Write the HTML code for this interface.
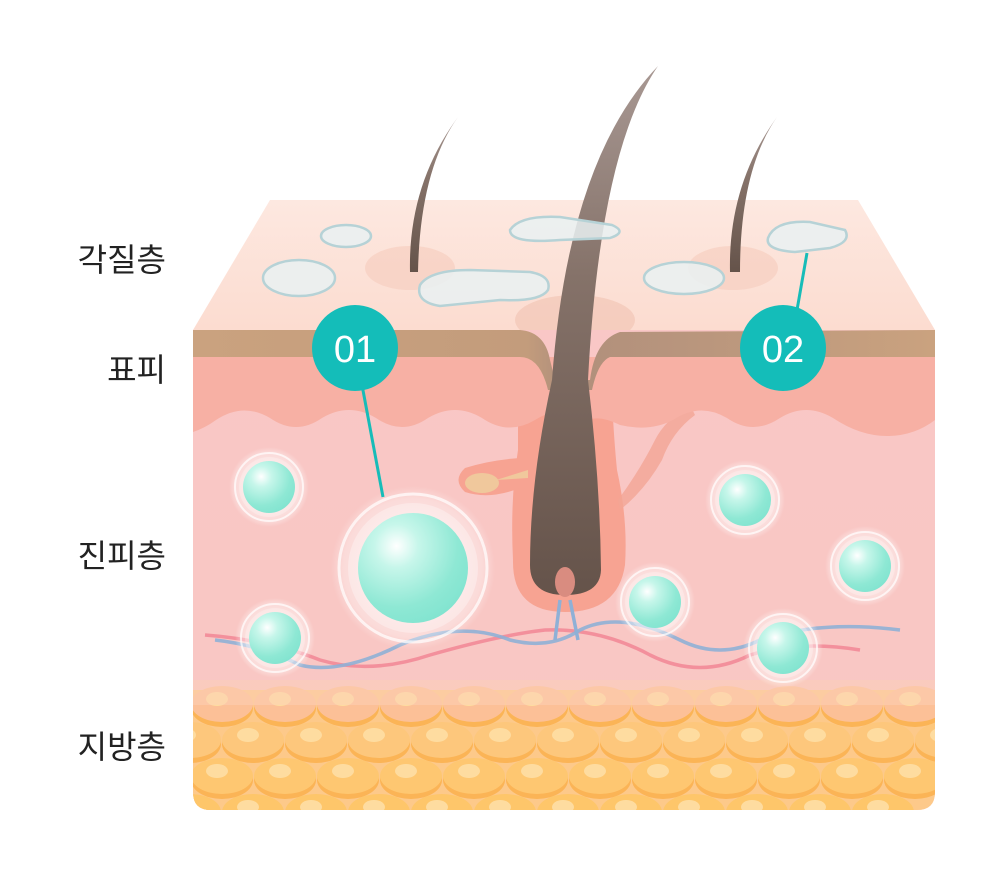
<!DOCTYPE html>
<html><head><meta charset="utf-8"><style>
html,body{margin:0;padding:0;background:#fff}
svg{display:block}
text{font-family:"Liberation Sans","Noto Sans CJK KR",sans-serif}
</style></head><body>
<svg width="1005" height="880" viewBox="0 0 1005 880" xmlns="http://www.w3.org/2000/svg">
<defs>
<linearGradient id="top" x1="0" y1="0" x2="0" y2="1"><stop offset="0" stop-color="#fde8e0"/><stop offset="1" stop-color="#fcdcd0"/></linearGradient>
<linearGradient id="tan" x1="0" y1="0" x2="1" y2="0"><stop offset="0" stop-color="#caa27f"/><stop offset="0.45" stop-color="#c39c7c"/><stop offset="0.5" stop-color="#b08f7c"/><stop offset="1" stop-color="#caa27f"/></linearGradient>
<linearGradient id="hair" x1="0" y1="0" x2="0" y2="1"><stop offset="0" stop-color="#a89893"/><stop offset="0.4" stop-color="#857269"/><stop offset="1" stop-color="#65534a"/></linearGradient>
<linearGradient id="derm" x1="0" y1="0" x2="0" y2="1"><stop offset="0" stop-color="#f9c7c6"/><stop offset="0.85" stop-color="#f9c7c3"/><stop offset="1" stop-color="#fbd0b8"/></linearGradient>
<radialGradient id="ball" cx="0.35" cy="0.3" r="0.8"><stop offset="0" stop-color="#ffffff"/><stop offset="0.25" stop-color="#c6f6ea"/><stop offset="0.7" stop-color="#8ee8d4"/><stop offset="1" stop-color="#7fe3cf"/></radialGradient>
<radialGradient id="halo" cx="0.5" cy="0.5" r="0.5"><stop offset="0.6" stop-color="#fff" stop-opacity="0.5"/><stop offset="0.85" stop-color="#fff" stop-opacity="0.35"/><stop offset="1" stop-color="#fff" stop-opacity="0"/></radialGradient>
<clipPath id="body"><path d="M193 330 H935 V792 Q935 810 917 810 H211 Q193 810 193 792 Z"/></clipPath>
<g id="bub">
<circle r="40" fill="url(#halo)"/>
<circle r="34" fill="none" stroke="#fff" stroke-opacity="0.7" stroke-width="2"/>
<circle r="30" fill="#fff" fill-opacity="0.25"/>
<circle r="26" fill="url(#ball)"/>
</g>
<g id="cell">
<ellipse cx="0" cy="4" rx="31" ry="19" fill="#fbb456"/>
<ellipse cx="0" cy="0" rx="31" ry="18" fill="inherit"/>
<ellipse cx="-5" cy="-5" rx="11" ry="7" fill="#fedca0"/>
</g>
</defs>

<path d="M193 330 L270 200 H858 L935 330 Z" fill="url(#top)"/>
<ellipse cx="410" cy="268" rx="45" ry="22" fill="#f6cfc0" opacity="0.7"/>
<ellipse cx="733" cy="268" rx="45" ry="22" fill="#f6cfc0" opacity="0.7"/>
<ellipse cx="575" cy="320" rx="60" ry="25" fill="#f2c6b6" opacity="0.7"/>

<g clip-path="url(#body)">
<rect x="193" y="330" width="742" height="480" fill="url(#derm)"/>
<!-- follicle (under epidermis) -->
<path d="M518 400 L612 400 Q614 440 617 470 Q628 520 625 565 Q618 612 565 612 Q512 612 513 560 Q510 500 518 450 Z" fill="#f7a392"/>
<path d="M520 458 Q490 460 465 468 Q452 480 465 492 Q490 500 520 488 Z" fill="#f7a392"/>
<ellipse cx="482" cy="483" rx="17" ry="10" fill="#f0c89c"/>
<path d="M496 480 L528 470 L528 478 Z" fill="#f0c89c"/>
<path d="M618 500 Q640 470 655 440 Q665 420 690 405 L695 415 Q672 432 662 460 Q645 490 620 510 Z" fill="#f2a595" opacity="0.8"/>
<!-- epidermis -->
<path d="M193 357 H935 V420 Q914 436 887 436 Q860 436 833 418 Q806 402 780 418 Q753 436 727 418 Q700 402 673 420 Q650 432 620 425 Q600 415 588 420 Q560 404 535 420 Q508 436 482 418 Q455 402 428 418 Q402 436 376 418 Q349 402 322 418 Q296 436 270 418 Q243 402 216 420 Q205 428 193 432 Z" fill="#f7b0a4"/>
<!-- fat layer -->
<rect x="193" y="690" width="742" height="120" fill="#fdc98a"/>
<g>
<use href="#cell" x="222" y="704" fill="#fcc097"/><use href="#cell" x="285" y="704" fill="#fcc097"/><use href="#cell" x="348" y="704" fill="#fcc097"/><use href="#cell" x="411" y="704" fill="#fcc097"/><use href="#cell" x="474" y="704" fill="#fcc097"/><use href="#cell" x="537" y="704" fill="#fcc097"/><use href="#cell" x="600" y="704" fill="#fcc097"/><use href="#cell" x="663" y="704" fill="#fcc097"/><use href="#cell" x="726" y="704" fill="#fcc097"/><use href="#cell" x="789" y="704" fill="#fcc097"/><use href="#cell" x="852" y="704" fill="#fcc097"/><use href="#cell" x="915" y="704" fill="#fcc097"/>
<use href="#cell" x="190" y="740" fill="#fdc77c"/><use href="#cell" x="253" y="740" fill="#fdc77c"/><use href="#cell" x="316" y="740" fill="#fdc77c"/><use href="#cell" x="379" y="740" fill="#fdc77c"/><use href="#cell" x="442" y="740" fill="#fdc77c"/><use href="#cell" x="505" y="740" fill="#fdc77c"/><use href="#cell" x="568" y="740" fill="#fdc77c"/><use href="#cell" x="631" y="740" fill="#fdc77c"/><use href="#cell" x="694" y="740" fill="#fdc77c"/><use href="#cell" x="757" y="740" fill="#fdc77c"/><use href="#cell" x="820" y="740" fill="#fdc77c"/><use href="#cell" x="883" y="740" fill="#fdc77c"/><use href="#cell" x="946" y="740" fill="#fdc77c"/>
<use href="#cell" x="222" y="776" fill="#fec771"/><use href="#cell" x="285" y="776" fill="#fec771"/><use href="#cell" x="348" y="776" fill="#fec771"/><use href="#cell" x="411" y="776" fill="#fec771"/><use href="#cell" x="474" y="776" fill="#fec771"/><use href="#cell" x="537" y="776" fill="#fec771"/><use href="#cell" x="600" y="776" fill="#fec771"/><use href="#cell" x="663" y="776" fill="#fec771"/><use href="#cell" x="726" y="776" fill="#fec771"/><use href="#cell" x="789" y="776" fill="#fec771"/><use href="#cell" x="852" y="776" fill="#fec771"/><use href="#cell" x="915" y="776" fill="#fec771"/>
<use href="#cell" x="190" y="812" fill="#fec66a"/><use href="#cell" x="253" y="812" fill="#fec66a"/><use href="#cell" x="316" y="812" fill="#fec66a"/><use href="#cell" x="379" y="812" fill="#fec66a"/><use href="#cell" x="442" y="812" fill="#fec66a"/><use href="#cell" x="505" y="812" fill="#fec66a"/><use href="#cell" x="568" y="812" fill="#fec66a"/><use href="#cell" x="631" y="812" fill="#fec66a"/><use href="#cell" x="694" y="812" fill="#fec66a"/><use href="#cell" x="757" y="812" fill="#fec66a"/><use href="#cell" x="820" y="812" fill="#fec66a"/><use href="#cell" x="883" y="812" fill="#fec66a"/>
</g>
<rect x="193" y="680" width="742" height="25" fill="#fbd0b8" opacity="0.5"/>
<!-- nerves -->
<path d="M205 635 Q270 640 320 660 Q370 675 430 655 Q500 635 545 630 Q600 628 650 655 Q700 680 750 655 Q800 640 860 650" fill="none" stroke="#f28a98" stroke-width="3.5" opacity="0.9"/>
<path d="M215 640 Q260 645 300 665 Q340 675 400 645 Q460 620 510 640 Q550 650 580 630 Q620 610 680 640 Q720 660 760 640 Q820 620 900 630" fill="none" stroke="#8fb0d6" stroke-width="3.5" opacity="0.9"/>
<path d="M560 600 L555 640 M570 600 L578 640" stroke="#8fb0d6" stroke-width="3.5" fill="none"/>
<!-- tan band -->
<path d="M193 330 H520 Q545 332 550 360 L555 380 L590 380 Q595 340 620 332 L935 330 V357 H610 Q598 362 592 390 L548 390 Q540 357 520 357 H193 Z" fill="url(#tan)"/>
</g>

<path d="M458 117 Q420 170 418 272 L410 272 Q408 185 458 117 Z" fill="url(#hair)"/>
<path d="M777 117 Q740 170 740 272 L730 272 Q728 185 777 117 Z" fill="url(#hair)"/>
<path d="M658 66 Q600 150 588 380 Q600 480 601 570 Q600 595 565 595 Q530 595 530 565 Q530 480 552 380 Q568 160 658 66 Z" fill="url(#hair)"/>
<ellipse cx="565" cy="582" rx="10" ry="15" fill="#d98c80"/>

<g fill="#e9f1f2" fill-opacity="0.85" stroke="#b6d2d6" stroke-width="2.5">
<ellipse cx="346" cy="236" rx="25" ry="11"/>
<ellipse cx="299" cy="278" rx="36" ry="18"/>
<path d="M420 285 Q430 270 470 270 L530 272 Q552 276 548 290 Q540 302 500 300 L440 306 Q415 302 420 285 Z"/>
<path d="M510 230 Q520 215 560 217 L612 225 Q628 232 610 238 L560 240 Q510 244 510 230 Z"/>
<ellipse cx="684" cy="278" rx="40" ry="16"/>
<path d="M768 238 Q775 220 810 222 L845 230 Q852 242 830 248 L795 252 Q765 250 768 238 Z"/>
</g>

<circle cx="413" cy="568" r="82" fill="url(#halo)"/>
<circle cx="413" cy="568" r="74" fill="none" stroke="#fff" stroke-opacity="0.7" stroke-width="3"/>
<circle cx="413" cy="568" r="65" fill="#fff" fill-opacity="0.3"/>
<circle cx="413" cy="568" r="55" fill="url(#ball)"/>
<use href="#bub" x="269" y="487"/>
<use href="#bub" x="275" y="638"/>
<use href="#bub" x="745" y="500"/>
<use href="#bub" x="655" y="602"/>
<use href="#bub" x="865" y="566"/>
<use href="#bub" x="783" y="648"/>

<line x1="362" y1="385" x2="383" y2="497" stroke="#17bcb8" stroke-width="3"/>
<line x1="797" y1="310" x2="807" y2="253" stroke="#17bcb8" stroke-width="3"/>
<circle cx="355" cy="348" r="43" fill="#14bdb9"/>
<circle cx="783" cy="348" r="43" fill="#14bdb9"/>
<text x="355" y="362" font-size="38" fill="#fff" text-anchor="middle">01</text>
<text x="783" y="362" font-size="38" fill="#fff" text-anchor="middle">02</text>

<g font-size="32" fill="#222" text-anchor="end">
<text x="166" y="271">각질층</text>
<text x="166" y="381">표피</text>
<text x="166" y="567">진피층</text>
<text x="166" y="758">지방층</text>
</g>
</svg>
</body></html>
